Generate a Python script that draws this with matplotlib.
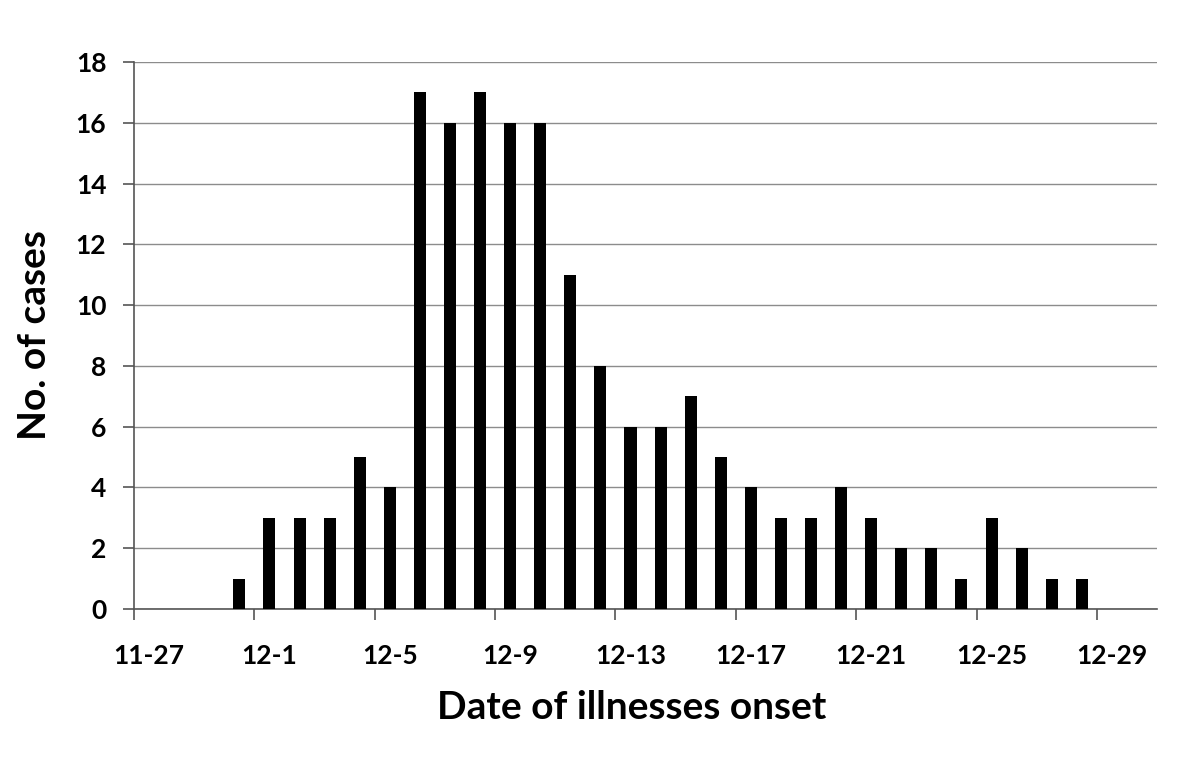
import matplotlib
matplotlib.use("Agg")
import matplotlib.pyplot as plt
from matplotlib.ticker import FixedLocator, FixedFormatter, NullFormatter
import numpy as np

dates = ["11-30", "12-1", "12-2", "12-3", "12-4", "12-5", "12-6", "12-7", "12-8",
         "12-9", "12-10", "12-11", "12-12", "12-13", "12-14", "12-15", "12-16",
         "12-17", "12-18", "12-19", "12-20", "12-21", "12-22", "12-23", "12-24",
         "12-25", "12-26", "12-27", "12-28"]
cases = [1, 3, 3, 3, 5, 4, 17, 16, 17, 16, 16, 11, 8, 6, 6, 7, 5, 4, 3, 3, 4, 3,
         2, 2, 1, 3, 2, 1, 1]
tick_labels = ["11-27", "12-1", "12-5", "12-9", "12-13", "12-17", "12-21", "12-25", "12-29"]
y_ticks = [0, 2, 4, 6, 8, 10, 12, 14, 16, 18]

plt.rcParams['font.family'] = ['Lato', 'DejaVu Sans']

fig = plt.figure(figsize=(12, 7.61), dpi=100)
ax = fig.add_axes([0.1117, 0.1997, 0.8525, 0.7188])

# day index relative to 11-27 (first date 11-30 -> day 3)
day_idx = np.arange(len(dates)) + 3
ax.bar(day_idx + 0.5, cases, width=0.4, color="black", zorder=3)

ax.set_xlim(0, 34)
ax.set_ylim(0, 18)

tick_pos = np.arange(0, 33, 4)
ax.xaxis.set_major_locator(FixedLocator(tick_pos))
ax.xaxis.set_major_formatter(NullFormatter())
ax.xaxis.set_minor_locator(FixedLocator(tick_pos + 0.5))
ax.xaxis.set_minor_formatter(FixedFormatter(tick_labels))

ax.set_yticks(y_ticks)
ax.yaxis.grid(True, color="#8c8c8c", linewidth=1.0, zorder=0)
ax.set_axisbelow(True)

for s in ["top", "right"]:
    ax.spines[s].set_visible(False)
for s in ["left", "bottom"]:
    ax.spines[s].set_color("#555555")
    ax.spines[s].set_linewidth(1.2)

ax.tick_params(axis="both", which="major", direction="out", length=8, width=1.2,
               color="#555555", labelsize=19)
ax.tick_params(axis="x", which="minor", length=0, labelsize=19, pad=25)
ax.tick_params(axis="y", pad=12)
for lab in ax.get_xticklabels(minor=True) + ax.get_yticklabels():
    lab.set_fontweight("bold")

ax.set_xlabel("Date of illnesses onset", fontsize=28, fontweight="bold",
              labelpad=16, x=0.486)
ax.set_ylabel("No. of cases", fontsize=28, fontweight="bold", labelpad=17)

fig.savefig("out.png", dpi=100, facecolor="white")
